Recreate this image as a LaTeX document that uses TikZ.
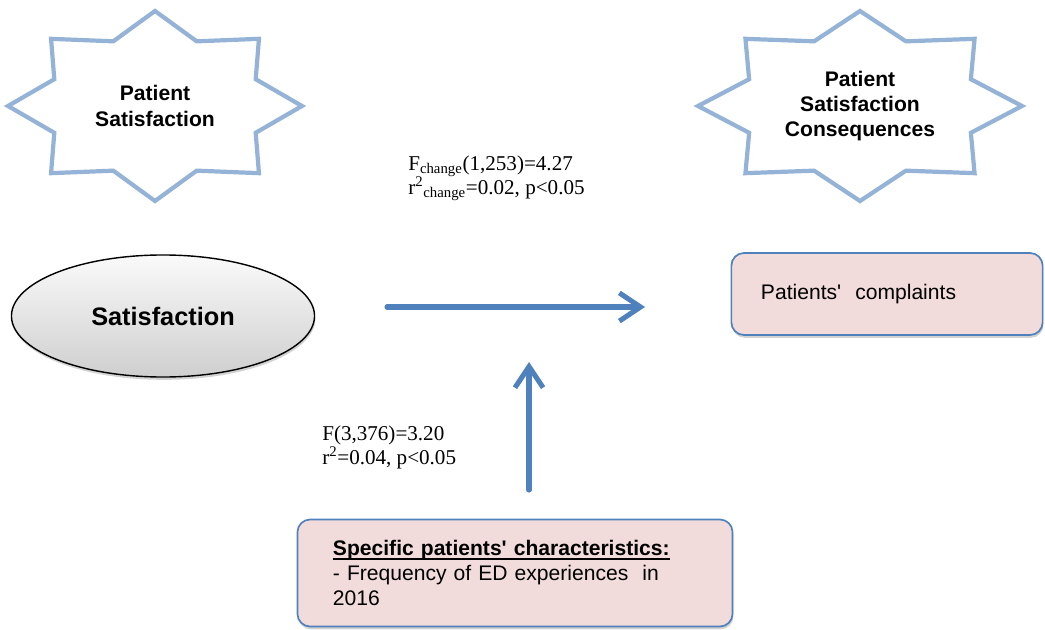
\documentclass[tikz,border=0pt]{standalone}
\usepackage{fontspec}
\setmainfont{Liberation Sans}
\newfontfamily\statfont{Liberation Serif}
\newsavebox{\lowbox}
\newcommand{\lowrule}[1]{\sbox{\lowbox}{#1}\rlap{\rule[-2.6pt]{\wd\lowbox}{0.9pt}}\usebox{\lowbox}}
\usepackage{tikz}
\usetikzlibrary{positioning,calc,shapes,shapes.geometric,arrows.meta,shadows}
\definecolor{starblue}{HTML}{95B3D7}
\definecolor{arrowblue}{HTML}{4F81BD}
\definecolor{boxpink}{HTML}{F2DCDB}

\begin{document}
\begin{tikzpicture}[x=0.025cm,y=-0.025cm,
    starline/.style={draw=starblue,line width=3pt},
    startext/.style={align=center,font=\fontsize{15}{18}\selectfont\bfseries},
    flow/.style={draw=arrowblue,line width=3.6pt,line cap=round,line join=round,-{Straight Barb[length=15pt,width=20pt]}},
    pinkbox/.style={rectangle,rounded corners=9pt,draw=arrowblue,line width=1.2pt,fill=boxpink,drop shadow={shadow xshift=0.6pt,shadow yshift=-2pt,opacity=0.35},align=left,font=\fontsize{15}{17.5}\selectfont},
    stat/.style={align=left,inner sep=0pt,font=\statfont\fontsize{15}{17}\selectfont}]

      \useasboundingbox (0,0) rectangle (1045,630);

      \begin{scope}[shift={(155,106)}]
        \draw[starline] (0:147 and 95) \foreach \a in {0,45,...,315} { -- ({\a+22.5}:109 and 70) -- ({\a+45}:147 and 95) } -- cycle;
      \end{scope}
      \begin{scope}[shift={(860,106)}]
        \draw[starline] (0:162 and 95) \foreach \a in {0,45,...,315} { -- ({\a+22.5}:120 and 70) -- ({\a+45}:162 and 95) } -- cycle;
      \end{scope}

      \node[startext] (patsat) at (155,106) {Patient\\Satisfaction};
      \node[startext] (conseq) at (860,106) {Patient\\Satisfaction\\Consequences};

      \node[ellipse,draw,line width=1pt,top color=gray!4,bottom color=gray!38,minimum width=7.575cm,minimum height=3.05cm,
        drop shadow={shadow xshift=0.6pt,shadow yshift=-2pt,opacity=0.35},font=\fontsize{18}{20}\selectfont\bfseries] (sat) at (163,316) {Satisfaction};

      \node[pinkbox,minimum width=7.775cm,minimum height=2.05cm,text width=6.3cm,inner xsep=0.74cm] (compl) at (887,294) {Patients\textquotesingle\ \ complaints};
      \node[pinkbox,minimum width=10.875cm,minimum height=2.675cm,text width=9.1cm,inner xsep=0.875cm] (spec) at (515,573)
        {\lowrule{\textbf{Specific patients\textquotesingle{} characteristics:}}\\- Frequency of ED experiences\ \ in\\2016};

      \node[stat,anchor=west] (fchange) at (408,178) {F\textsubscript{change}(1,253)=4.27\\r\textsuperscript{2}\textsubscript{change}=0.02, p<0.05};
      \node[stat,anchor=west] (fmain) at (322,447) {F(3,376)=3.20\\r\textsuperscript{2}=0.04, p<0.05};

      \coordinate (h1) at (387,307);
      \coordinate (h2) at (645,307);
      \coordinate (v1) at (529,490);
      \coordinate (v2) at (529,362);

      \draw[flow] (h1) -- (h2);
      \draw[flow] (v1) -- (v2);
    \end{tikzpicture}
\end{document}
